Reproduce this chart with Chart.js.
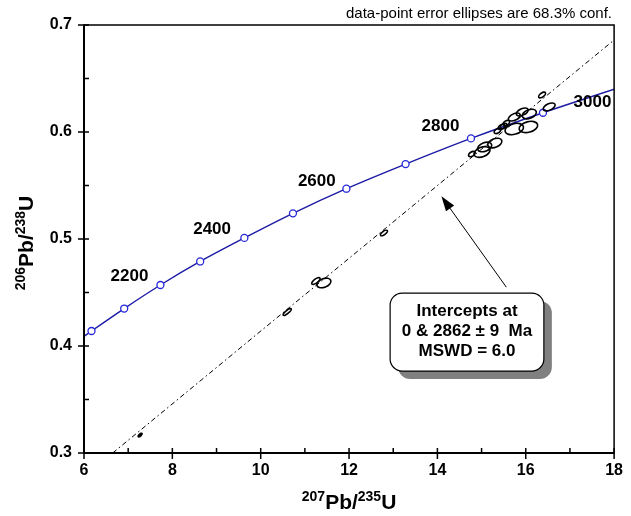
<!DOCTYPE html>
<html>
<head>
<meta charset="utf-8">
<script src="https://cdn.jsdelivr.net/npm/chart.js@4.4.1/dist/chart.umd.min.js"></script>
<style>
  body { margin: 0; background: #fff; }
  #wrap { width: 631px; height: 516px; }
</style>
</head>
<body>
<div id="wrap"><canvas id="myChart" width="631" height="516"></canvas></div>
<script>
// axis ranges
const xMin = 6, xMax = 18, yMin = 0.3, yMax = 0.7;
const xTicks = [6, 8, 10, 12, 14, 16, 18];
const xMinor = [7, 9, 11, 13, 15, 17];
const yTicks = [0.3, 0.4, 0.5, 0.6, 0.7];
const yMinor = [0.35, 0.45, 0.55, 0.65];

// concordia curve (x = 207Pb/235U, y = 206Pb/238U), age markers in Ma
const concAges = [null, 2000, 2100, 2200, 2300, 2400, 2500, 2600, 2700, 2800, 2900, null];
const concX = [6.0, 6.17, 6.91, 7.73, 8.63, 9.63, 10.73, 11.94, 13.28, 14.76, 16.39, 18.0];
const concY = [0.409, 0.414, 0.435, 0.457, 0.479, 0.501, 0.524, 0.547, 0.570, 0.594, 0.618, 0.640];

// age labels
const ageLabels = ["2200", "2400", "2600", "2800", "3000"];
const ageLabelX = [7.03, 8.90, 11.27, 14.07, 17.51];
const ageLabelY = [0.465, 0.509, 0.554, 0.605, 0.628];

// discordia (regression line)
const discX = [6.65, 18.0];
const discY = [0.3, 0.686];

// data-point ellipses: centre, 1s errors, error correlation
const ellX   = [16.37, 16.53, 16.06, 15.74, 16.08, 15.92, 15.74, 15.56, 15.45, 15.36, 15.50, 15.30, 15.07, 15.01, 14.78, 11.43, 11.25, 10.60, 12.79, 7.27];
const ellY   = [0.6346, 0.6234, 0.6047, 0.6028, 0.6168, 0.6187, 0.6140, 0.6084, 0.6047, 0.6010, 0.6056, 0.5897, 0.5860, 0.5813, 0.5794, 0.4589, 0.4607, 0.4318, 0.5056, 0.3168];
const ellSx  = [0.078, 0.135, 0.210, 0.210, 0.160, 0.135, 0.135, 0.076, 0.076, 0.076, 0.076, 0.160, 0.160, 0.182, 0.076, 0.160, 0.095, 0.092, 0.078, 0.045];
const ellSy  = [0.0027, 0.0037, 0.0053, 0.0053, 0.0045, 0.0037, 0.0037, 0.0025, 0.0025, 0.0025, 0.0025, 0.0045, 0.0045, 0.0050, 0.0025, 0.0045, 0.0032, 0.0033, 0.0026, 0.0017];
const ellRho = [0.60, 0.50, 0.30, 0.30, 0.35, 0.50, 0.50, 0.45, 0.45, 0.45, 0.45, 0.35, 0.35, 0.36, 0.45, 0.35, 0.70, 0.83, 0.70, 0.70];

const noteText = "data-point error ellipses are 68.3% conf.";
const boxLines = ["Intercepts at", "0 & 2862 \u00b1 9  Ma", "MSWD = 6.0"];
// arrow from the box to the discordia, and the box corners (data units)
const arrowFrom = [15.56, 0.455];
const arrowTo = [14.09, 0.540];
const boxCorners = [12.93, 0.4495, 16.41, 0.3766];

const FONT = "'Liberation Sans', Arial, sans-serif";

function supWidth(ctx, parts, bigSize, smallSize) {
  let w = 0;
  parts.forEach(([t, sup]) => {
    ctx.font = `bold ${sup ? smallSize : bigSize}px ${FONT}`;
    w += ctx.measureText(t).width;
  });
  return w;
}

function drawSupText(ctx, parts, cx, baseline, bigSize, smallSize) {
  const w = supWidth(ctx, parts, bigSize, smallSize);
  let x = cx - w / 2;
  ctx.textAlign = "left";
  ctx.textBaseline = "alphabetic";
  parts.forEach(([t, sup]) => {
    ctx.font = `bold ${sup ? smallSize : bigSize}px ${FONT}`;
    ctx.fillText(t, x, sup ? baseline - 8 : baseline);
    x += ctx.measureText(t).width;
  });
}

const decoPlugin = {
  id: "deco",
  afterDatasetsDraw(chart) {
    const { ctx, chartArea: a, scales } = chart;
    const xs = scales.x, ys = scales.y;
    const px = (v) => xs.getPixelForValue(v);
    const py = (v) => ys.getPixelForValue(v);
    const kx = px(1) - px(0);
    const ky = py(0) - py(1);

    ctx.save();
    ctx.beginPath();
    ctx.rect(a.left, a.top, a.right - a.left, a.bottom - a.top);
    ctx.clip();

    // error ellipses
    ctx.strokeStyle = "#000";
    ctx.lineWidth = 1.6;
    ellX.forEach((x, i) => {
      const sa = ellSx[i] * kx;
      const sb = ellSy[i] * ky;
      const c = -ellRho[i] * sa * sb;
      const m = (sa * sa + sb * sb) / 2;
      const d = Math.sqrt(((sa * sa - sb * sb) / 2) ** 2 + c * c);
      const r1 = Math.sqrt(m + d);
      const r2 = Math.sqrt(Math.max(m - d, 0.1));
      const th = 0.5 * Math.atan2(2 * c, sa * sa - sb * sb);
      ctx.beginPath();
      ctx.ellipse(px(x), py(ellY[i]), r1, r2, th, 0, Math.PI * 2);
      if (i === ellX.length - 1) {
        ctx.fillStyle = "#000";
        ctx.fill();
      }
      ctx.stroke();
    });
    ctx.restore();

    ctx.save();
    // age labels
    ctx.fillStyle = "#000";
    ctx.font = `bold 17px ${FONT}`;
    ctx.textAlign = "center";
    ctx.textBaseline = "middle";
    ageLabels.forEach((t, i) => ctx.fillText(t, px(ageLabelX[i]), py(ageLabelY[i])));

    // arrow
    const ax0 = px(arrowFrom[0]), ay0 = py(arrowFrom[1]);
    const ax1 = px(arrowTo[0]), ay1 = py(arrowTo[1]);
    const ang = Math.atan2(ay1 - ay0, ax1 - ax0);
    ctx.strokeStyle = "#000";
    ctx.lineWidth = 1;
    ctx.beginPath();
    ctx.moveTo(ax0, ay0);
    ctx.lineTo(ax1 - 10 * Math.cos(ang), ay1 - 10 * Math.sin(ang));
    ctx.stroke();
    ctx.beginPath();
    ctx.moveTo(ax1, ay1);
    ctx.lineTo(ax1 - 15 * Math.cos(ang) + 5 * Math.sin(ang), ay1 - 15 * Math.sin(ang) - 5 * Math.cos(ang));
    ctx.lineTo(ax1 - 15 * Math.cos(ang) - 5 * Math.sin(ang), ay1 - 15 * Math.sin(ang) + 5 * Math.cos(ang));
    ctx.closePath();
    ctx.fill();

    // result box with shadow
    const bx0 = px(boxCorners[0]), by0 = py(boxCorners[1]);
    const bx1 = px(boxCorners[2]), by1 = py(boxCorners[3]);
    ctx.fillStyle = "#808080";
    ctx.beginPath();
    ctx.roundRect(bx0 + 8, by0 + 8, bx1 - bx0, by1 - by0, 12);
    ctx.fill();
    ctx.fillStyle = "#fff";
    ctx.beginPath();
    ctx.roundRect(bx0, by0, bx1 - bx0, by1 - by0, 12);
    ctx.fill();
    ctx.lineWidth = 1.2;
    ctx.stroke();
    ctx.fillStyle = "#000";
    ctx.font = `bold 17px ${FONT}`;
    ctx.textAlign = "center";
    ctx.textBaseline = "middle";
    boxLines.forEach((t, i) => ctx.fillText(t, (bx0 + bx1) / 2, by0 + 18 + i * 20));

    // frame
    ctx.lineWidth = 1.5;
    ctx.strokeRect(a.left, a.top, a.right - a.left, a.bottom - a.top);
    ctx.lineWidth = 2;
    ctx.beginPath();
    ctx.moveTo(a.left, a.top);
    ctx.lineTo(a.left, a.bottom);
    ctx.lineTo(a.right, a.bottom);
    ctx.stroke();

    // tick marks
    ctx.lineWidth = 1.5;
    ctx.beginPath();
    xTicks.forEach((v) => { ctx.moveTo(px(v), a.bottom - 5); ctx.lineTo(px(v), a.bottom + 6); });
    xMinor.forEach((v) => { ctx.moveTo(px(v), a.bottom - 5); ctx.lineTo(px(v), a.bottom); });
    yTicks.forEach((v) => { ctx.moveTo(a.left - 6, py(v)); ctx.lineTo(a.left + 5, py(v)); });
    yMinor.forEach((v) => { ctx.moveTo(a.left, py(v)); ctx.lineTo(a.left + 5, py(v)); });
    ctx.stroke();

    // note
    ctx.font = `15px ${FONT}`;
    ctx.textAlign = "right";
    ctx.textBaseline = "alphabetic";
    ctx.fillText(noteText, 612, 18);

    // axis titles
    drawSupText(ctx, [["207", true], ["Pb/", false], ["235", true], ["U", false]], (a.left + a.right) / 2, 509, 21, 14);
    ctx.translate(33, (a.top + a.bottom) / 2 + 4);
    ctx.rotate(-Math.PI / 2);
    drawSupText(ctx, [["206", true], ["Pb/", false], ["238", true], ["U", false]], 0, 0, 21, 14);
    ctx.restore();
  },
};

const ctx = document.getElementById("myChart");

const cfg = {
  type: "scatter",
  data: {
    datasets: [
      {
        label: "Discordia",
        data: discX.map((x, i) => ({ x, y: discY[i] })),
        showLine: true,
        borderColor: "#000",
        borderWidth: 1,
        borderDash: [5, 3, 1.5, 3],
        pointRadius: 0,
      },
      {
        label: "Concordia",
        data: concX.map((x, i) => ({ x, y: concY[i], age: concAges[i] })),
        showLine: true,
        cubicInterpolationMode: "monotone",
        borderColor: "#1a1aa6",
        borderWidth: 1.4,
        pointRadius: concAges.map((a) => (a ? 3.5 : 0)),
        pointBackgroundColor: "#fff",
        pointBorderColor: "#2626d8",
        pointBorderWidth: 1.3,
      },
    ],
  },
  options: {
    responsive: false,
    animation: false,
    layout: { padding: { top: 25, right: 9, left: 0, bottom: 0 } },
    plugins: {
      legend: { display: false },
      tooltip: { enabled: false },
    },
    scales: {
      x: {
        type: "linear",
        min: xMin,
        max: xMax,
        grid: { display: false, drawTicks: false },
        border: { display: false },
        afterBuildTicks: (s) => { s.ticks = xTicks.map((v) => ({ value: v })); },
        afterFit: (s) => { s.height = 63; },
        ticks: {
          color: "#000",
          padding: 8,
          font: { family: FONT, size: 16, weight: "bold" },
          callback: (v) => String(v),
        },
      },
      y: {
        type: "linear",
        min: yMin,
        max: yMax,
        grid: { display: false, drawTicks: false },
        border: { display: false },
        afterBuildTicks: (s) => { s.ticks = yTicks.map((v) => ({ value: v })); },
        afterFit: (s) => { s.width = 84; },
        ticks: {
          color: "#000",
          padding: 12,
          font: { family: FONT, size: 16, weight: "bold" },
          callback: (v) => Number(v).toFixed(1),
        },
      },
    },
  },
  plugins: [decoPlugin],
};

const myChart = new Chart(ctx, cfg);
</script>
</body>
</html>
